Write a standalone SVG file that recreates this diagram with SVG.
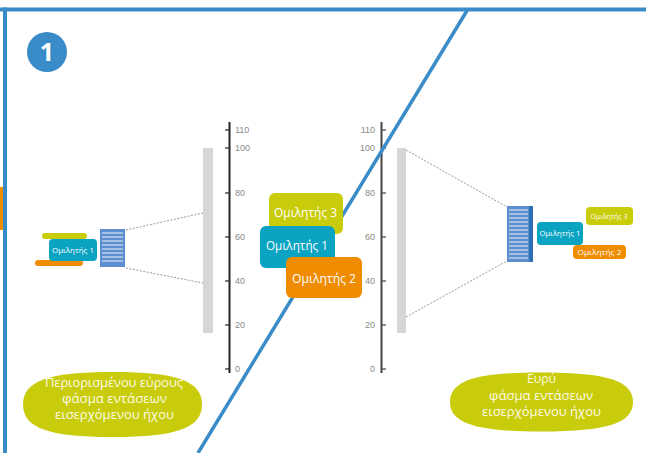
<svg xmlns="http://www.w3.org/2000/svg" width="646" height="453" viewBox="0 0 646 453">
<style>
.t{font-family:"Open Sans","Liberation Sans",sans-serif;fill:#fff;text-anchor:middle}
.bx{font-size:12px;font-weight:500}
.sm{font-size:8px;font-weight:500}
.el{font-size:12px;fill:#fffbe8}
.tk{font-family:"Liberation Sans",sans-serif;font-size:9px;fill:#8a8a8a}
.dash{stroke:#999;stroke-width:1;stroke-dasharray:2 1.5;fill:none}
.stripe{stroke:#fff;stroke-width:1.2;opacity:0.75}
</style>
<rect width="646" height="453" fill="#fff"/>
<g id="frame">
<rect x="0" y="7.5" width="646" height="4" fill="#3a8cc8"/>
<rect x="3" y="7.5" width="4" height="446" fill="#3a8cc8"/>
<rect x="0" y="187" width="3" height="43" fill="#f08c00"/>
</g>
<g id="badge">
<circle cx="47" cy="52" r="20" fill="#3a8cc8"/>
<text x="47" y="61" class="t" style="font-size:25px;font-weight:700">1</text>
</g>
<g id="connectors">
<line x1="126" y1="230" x2="203" y2="213" class="dash"/>
<line x1="126" y1="268" x2="203" y2="283" class="dash"/>
<line x1="406" y1="150" x2="507" y2="207" class="dash"/>
<line x1="406" y1="317" x2="507" y2="261" class="dash"/>
</g>
<g id="bar-left"><rect x="203" y="148" width="10" height="185" fill="#d6d6d6"/></g>
<g id="bar-right"><rect x="397" y="148" width="9" height="185" fill="#d6d6d6"/></g>
<g id="scale-left">
<line x1="229.5" y1="122" x2="229.5" y2="373" stroke="#222" stroke-width="2"/>
<g stroke="#222" stroke-width="1.2">
<line x1="225" y1="130" x2="229" y2="130"/><line x1="225" y1="148" x2="229" y2="148"/>
<line x1="225" y1="193" x2="229" y2="193"/><line x1="225" y1="237" x2="229" y2="237"/>
<line x1="225" y1="281" x2="229" y2="281"/><line x1="225" y1="325" x2="229" y2="325"/>
<line x1="225" y1="369" x2="229" y2="369"/>
</g>
<text class="tk" x="235" y="133">110</text><text class="tk" x="235" y="151">100</text>
<text class="tk" x="235" y="196">80</text><text class="tk" x="235" y="240">60</text>
<text class="tk" x="235" y="284">40</text><text class="tk" x="235" y="328">20</text>
<text class="tk" x="235" y="372">0</text>
</g>
<g id="scale-right">
<line x1="381.5" y1="122" x2="381.5" y2="373" stroke="#444" stroke-width="2"/>
<g stroke="#444" stroke-width="1.2">
<line x1="382" y1="130" x2="386" y2="130"/><line x1="382" y1="148" x2="386" y2="148"/>
<line x1="382" y1="193" x2="386" y2="193"/><line x1="382" y1="237" x2="386" y2="237"/>
<line x1="382" y1="281" x2="386" y2="281"/><line x1="382" y1="325" x2="386" y2="325"/>
<line x1="382" y1="369" x2="386" y2="369"/>
</g>
<g style="text-anchor:end">
<text class="tk" x="375" y="133">110</text><text class="tk" x="375" y="151">100</text>
<text class="tk" x="375" y="196">80</text><text class="tk" x="375" y="240">60</text>
<text class="tk" x="375" y="284">40</text><text class="tk" x="375" y="328">20</text>
<text class="tk" x="375" y="372">0</text>
</g>
</g>
<g id="divider"><line x1="468" y1="9" x2="198" y2="453" stroke="#3a8cc8" stroke-width="3.5"/></g>
<g id="stack-left">
<rect x="100" y="229" width="25" height="38" fill="#5b8fd0"/>
<g class="stripe">
<line x1="102" y1="233" x2="123" y2="233"/><line x1="102" y1="237" x2="123" y2="237"/>
<line x1="102" y1="241" x2="123" y2="241"/><line x1="102" y1="245" x2="123" y2="245"/>
<line x1="102" y1="249" x2="123" y2="249"/><line x1="102" y1="253" x2="123" y2="253"/>
<line x1="102" y1="257" x2="123" y2="257"/><line x1="102" y1="261" x2="123" y2="261"/>
</g>
</g>
<g id="left-speakers">
<rect x="42" y="233" width="45" height="6" rx="3" fill="#c8cc0a"/>
<rect x="35" y="260" width="48" height="6" rx="3" fill="#f08c00"/>
<rect x="49" y="239" width="48" height="22" rx="4" fill="#0aa3c2"/>
<text class="t sm" x="73" y="253" textLength="42" lengthAdjust="spacingAndGlyphs">Ομιλητής 1</text>
</g>
<g id="speaker3-mid">
<rect x="269" y="193" width="74" height="41" rx="6" fill="#c8cc0a"/>
<text class="t bx" x="305.5" y="217" textLength="63" lengthAdjust="spacingAndGlyphs">Ομιλητής 3</text>
</g>
<g id="speaker1-mid">
<rect x="260" y="226" width="75" height="42" rx="6" fill="#0aa3c2"/>
<text class="t bx" x="297" y="250" textLength="62" lengthAdjust="spacingAndGlyphs">Ομιλητής 1</text>
</g>
<g id="speaker2-mid">
<rect x="286" y="257" width="76" height="41" rx="6" fill="#f08c00"/>
<text class="t bx" x="324" y="283" textLength="64" lengthAdjust="spacingAndGlyphs">Ομιλητής 2</text>
</g>
<g id="stack-right">
<rect x="507" y="206" width="26" height="56" fill="#5b8fd0"/>
<rect x="529" y="206" width="4" height="56" fill="#2f6fb8"/>
<g class="stripe">
<line x1="509" y1="210" x2="528" y2="210"/><line x1="509" y1="214" x2="528" y2="214"/>
<line x1="509" y1="218" x2="528" y2="218"/><line x1="509" y1="222" x2="528" y2="222"/>
<line x1="509" y1="226" x2="528" y2="226"/><line x1="509" y1="230" x2="528" y2="230"/>
<line x1="509" y1="234" x2="528" y2="234"/><line x1="509" y1="238" x2="528" y2="238"/>
<line x1="509" y1="242" x2="528" y2="242"/><line x1="509" y1="246" x2="528" y2="246"/>
<line x1="509" y1="250" x2="528" y2="250"/><line x1="509" y1="254" x2="528" y2="254"/>
<line x1="509" y1="258" x2="528" y2="258"/>
</g>
</g>
<g id="speaker1-right">
<rect x="537" y="222" width="46" height="23" rx="4" fill="#0aa3c2"/>
<text class="t sm" x="560" y="236" textLength="41" lengthAdjust="spacingAndGlyphs">Ομιλητής 1</text>
</g>
<g id="speaker3-right">
<rect x="586" y="207" width="47" height="18" rx="4" fill="#c8cc0a"/>
<text class="t sm" x="609" y="219" textLength="37" lengthAdjust="spacingAndGlyphs">Ομιλητής 3</text>
</g>
<g id="speaker2-right">
<rect x="573" y="245" width="53" height="14" rx="4" fill="#f08c00"/>
<text class="t sm" x="599.5" y="255" textLength="44" lengthAdjust="spacingAndGlyphs">Ομιλητής 2</text>
</g>
<g id="label-left">
<path d="M23,404.5 C23,381.1 48.1,372 112.5,372 C176.9,372 202,381.1 202,404.5 C202,427.9 176.9,437 112.5,437 C48.1,437 23,427.9 23,404.5Z" fill="#c8cc0a"/>
<text class="t el" x="114" y="387" textLength="138" lengthAdjust="spacingAndGlyphs">Περιορισμένου εύρους</text>
<text class="t el" x="114.5" y="403" textLength="105" lengthAdjust="spacingAndGlyphs">φάσμα εντάσεων</text>
<text class="t el" x="114.5" y="419" textLength="119" lengthAdjust="spacingAndGlyphs">εισερχόμενου ήχου</text>
</g>
<g id="label-right">
<path d="M450,402 C450,380.8 475.6,372.5 541.5,372.5 C607.4,372.5 633,380.8 633,402 C633,423.2 607.4,431.5 541.5,431.5 C475.6,431.5 450,423.2 450,402Z" fill="#c8cc0a"/>
<text class="t el" x="541.5" y="383" textLength="29" lengthAdjust="spacingAndGlyphs">Ευρύ</text>
<text class="t el" x="541" y="399.5" textLength="104" lengthAdjust="spacingAndGlyphs">φάσμα εντάσεων</text>
<text class="t el" x="541.5" y="416" textLength="119" lengthAdjust="spacingAndGlyphs">εισερχόμενου ήχου</text>
</g>
</svg>
